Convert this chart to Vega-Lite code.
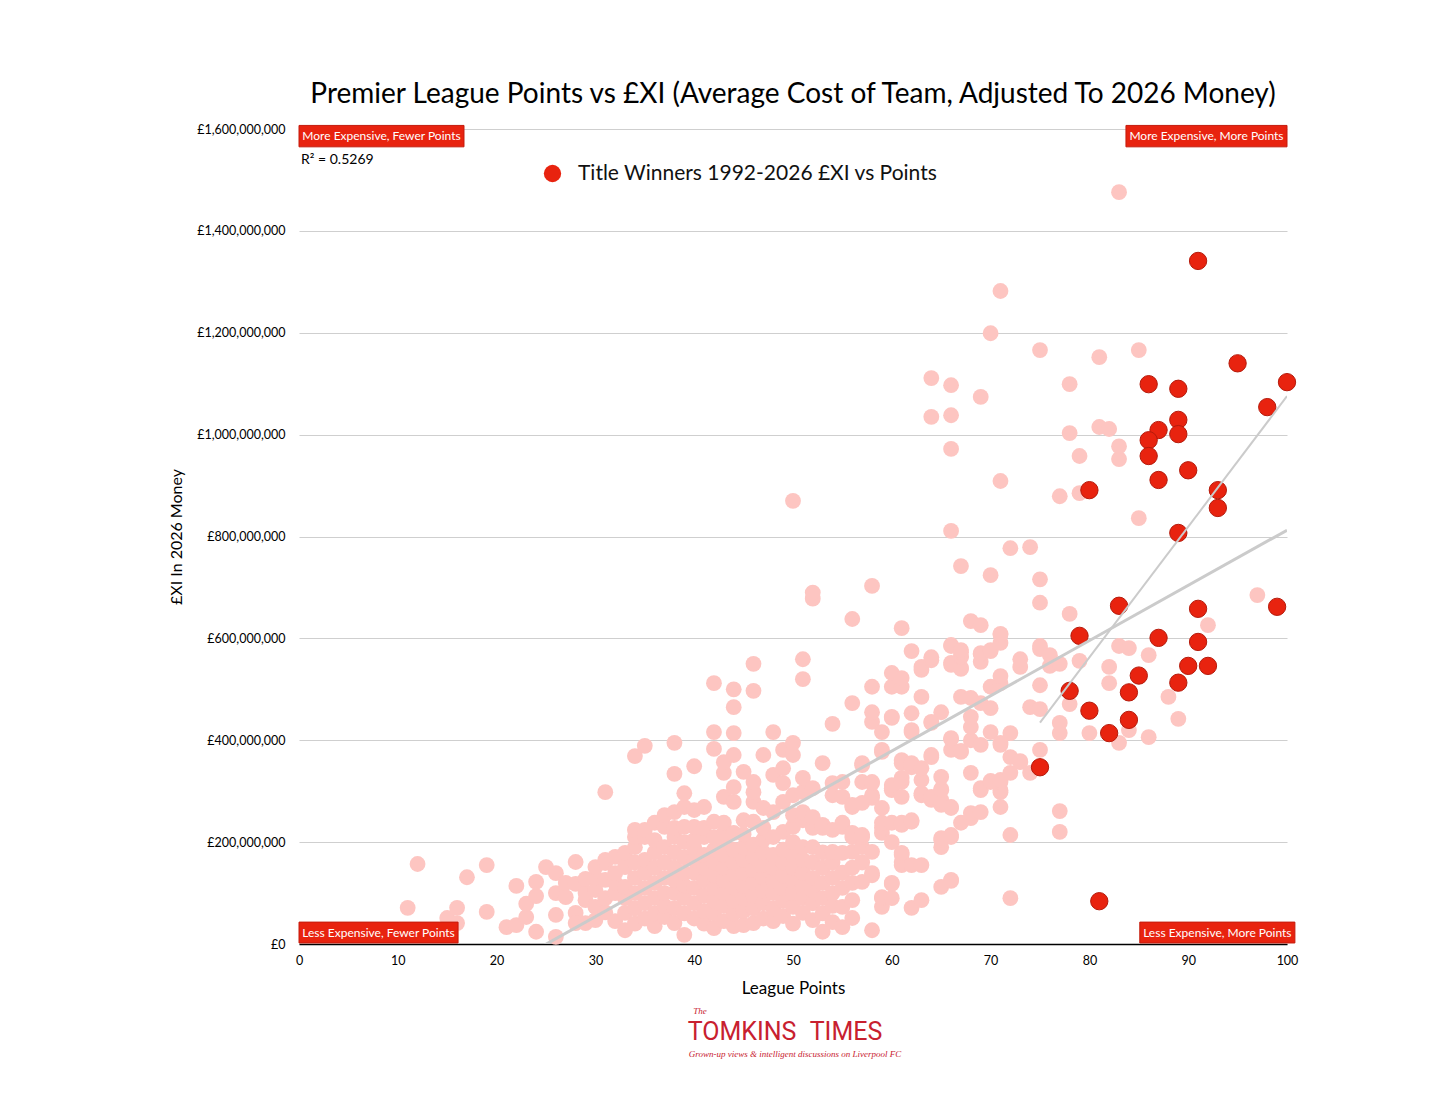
{
  "$schema": "https://vega.github.io/schema/vega-lite/v6.json",
  "description": "Premier League points vs average XI cost, title winners highlighted.",
  "autosize": "none",
  "width": 988,
  "height": 815,
  "padding": {"left": 299, "top": 129, "right": 169, "bottom": 173},
  "background": "white",
  "title": {
    "text": "Premier League Points vs £XI (Average Cost of Team, Adjusted To 2026 Money)",
    "fontSize": 28,
    "fontWeight": "normal",
    "color": "#000",
    "anchor": "middle",
    "frame": "group",
    "offset": 14
  },
  "config": {
    "font": "Lato",
    "view": {"stroke": null}
  },
  "datasets": {
    "notes": [
      {"label": "More Expensive, Fewer Points", "x0": 0, "x1": 16.7, "y0": 1565, "y1": 1607},
      {"label": "More Expensive, More Points", "x0": 83.7, "x1": 100, "y0": 1565, "y1": 1607},
      {"label": "Less Expensive, Fewer Points", "x0": 0, "x1": 16.1, "y0": 2, "y1": 43},
      {"label": "Less Expensive, More Points", "x0": 85.1, "x1": 100.8, "y0": 2, "y1": 43}
    ],
    "single": [{"id": 1}]
  },
  "data": {
    "values": [
      {"points":91,"cost_m":1341,"winner":1},{"points":95,"cost_m":1140,"winner":1},{"points":100,"cost_m":1103,"winner":1},
      {"points":86,"cost_m":1099,"winner":1},{"points":89,"cost_m":1090,"winner":1},{"points":98,"cost_m":1054,"winner":1},
      {"points":89,"cost_m":1029,"winner":1},{"points":87,"cost_m":1009,"winner":1},{"points":86,"cost_m":989,"winner":1},
      {"points":89,"cost_m":1001,"winner":1},{"points":86,"cost_m":958,"winner":1},{"points":90,"cost_m":930,"winner":1},
      {"points":87,"cost_m":911,"winner":1},{"points":80,"cost_m":891,"winner":1},{"points":93,"cost_m":891,"winner":1},
      {"points":93,"cost_m":856,"winner":1},{"points":89,"cost_m":807,"winner":1},{"points":83,"cost_m":664,"winner":1},
      {"points":99,"cost_m":662,"winner":1},{"points":91,"cost_m":658,"winner":1},{"points":79,"cost_m":605,"winner":1},
      {"points":87,"cost_m":601,"winner":1},{"points":91,"cost_m":593,"winner":1},{"points":90,"cost_m":546,"winner":1},
      {"points":92,"cost_m":546,"winner":1},{"points":85,"cost_m":527,"winner":1},{"points":78,"cost_m":497,"winner":1},
      {"points":84,"cost_m":494,"winner":1},{"points":89,"cost_m":513,"winner":1},{"points":80,"cost_m":458,"winner":1},
      {"points":84,"cost_m":440,"winner":1},{"points":82,"cost_m":414,"winner":1},{"points":75,"cost_m":347,"winner":1},
      {"points":81,"cost_m":84,"winner":1},

      {"points":11,"cost_m":71,"winner":0},{"points":12,"cost_m":157,"winner":0},{"points":15,"cost_m":51,"winner":0},
      {"points":16,"cost_m":71,"winner":0},{"points":16,"cost_m":41,"winner":0},{"points":17,"cost_m":131,"winner":0},
      {"points":19,"cost_m":155,"winner":0},{"points":19,"cost_m":63,"winner":0},{"points":21,"cost_m":33,"winner":0},
      {"points":22,"cost_m":114,"winner":0},{"points":22,"cost_m":37,"winner":0},{"points":23,"cost_m":53,"winner":0},
      {"points":23,"cost_m":79,"winner":0},{"points":24,"cost_m":94,"winner":0},{"points":24,"cost_m":122,"winner":0},
      {"points":24,"cost_m":24,"winner":0},{"points":25,"cost_m":151,"winner":0},{"points":26,"cost_m":139,"winner":0},
      {"points":26,"cost_m":14,"winner":0},{"points":26,"cost_m":100,"winner":0},{"points":26,"cost_m":57,"winner":0},
      {"points":27,"cost_m":92,"winner":0},{"points":27,"cost_m":120,"winner":0},{"points":28,"cost_m":161,"winner":0},
      {"points":28,"cost_m":118,"winner":0},{"points":28,"cost_m":61,"winner":0},{"points":28,"cost_m":41,"winner":0},

      {"points":29,"cost_m":41,"winner":0},{"points":29,"cost_m":86,"winner":0},{"points":29,"cost_m":100,"winner":0},{"points":29,"cost_m":128,"winner":0},
      {"points":30,"cost_m":47,"winner":0},{"points":30,"cost_m":73,"winner":0},{"points":30,"cost_m":106,"winner":0},{"points":30,"cost_m":130,"winner":0},{"points":30,"cost_m":151,"winner":0},
      {"points":31,"cost_m":62,"winner":0},{"points":31,"cost_m":90,"winner":0},{"points":31,"cost_m":126,"winner":0},{"points":31,"cost_m":159,"winner":0},{"points":31,"cost_m":165,"winner":0},{"points":31,"cost_m":298,"winner":0},
      {"points":32,"cost_m":45,"winner":0},{"points":32,"cost_m":100,"winner":0},{"points":32,"cost_m":120,"winner":0},{"points":32,"cost_m":139,"winner":0},{"points":32,"cost_m":171,"winner":0},
      {"points":33,"cost_m":27,"winner":0},{"points":33,"cost_m":61,"winner":0},{"points":33,"cost_m":90,"winner":0},{"points":33,"cost_m":112,"winner":0},{"points":33,"cost_m":151,"winner":0},{"points":33,"cost_m":179,"winner":0},
      {"points":34,"cost_m":40,"winner":0},{"points":34,"cost_m":70,"winner":0},{"points":34,"cost_m":100,"winner":0},{"points":34,"cost_m":130,"winner":0},{"points":34,"cost_m":160,"winner":0},{"points":34,"cost_m":190,"winner":0},{"points":34,"cost_m":210,"winner":0},{"points":34,"cost_m":224,"winner":0},{"points":34,"cost_m":369,"winner":0},
      {"points":35,"cost_m":50,"winner":0},{"points":35,"cost_m":80,"winner":0},{"points":35,"cost_m":110,"winner":0},{"points":35,"cost_m":140,"winner":0},{"points":35,"cost_m":165,"winner":0},{"points":35,"cost_m":210,"winner":0},{"points":35,"cost_m":224,"winner":0},{"points":35,"cost_m":389,"winner":0},
      {"points":36,"cost_m":35,"winner":0},{"points":36,"cost_m":60,"winner":0},{"points":36,"cost_m":90,"winner":0},{"points":36,"cost_m":120,"winner":0},{"points":36,"cost_m":150,"winner":0},{"points":36,"cost_m":180,"winner":0},{"points":36,"cost_m":204,"winner":0},{"points":36,"cost_m":238,"winner":0},
      {"points":37,"cost_m":53,"winner":0},{"points":37,"cost_m":75,"winner":0},{"points":37,"cost_m":100,"winner":0},{"points":37,"cost_m":130,"winner":0},{"points":37,"cost_m":160,"winner":0},{"points":37,"cost_m":190,"winner":0},{"points":37,"cost_m":230,"winner":0},{"points":37,"cost_m":253,"winner":0},
      {"points":38,"cost_m":41,"winner":0},{"points":38,"cost_m":70,"winner":0},{"points":38,"cost_m":100,"winner":0},{"points":38,"cost_m":125,"winner":0},{"points":38,"cost_m":150,"winner":0},{"points":38,"cost_m":180,"winner":0},{"points":38,"cost_m":210,"winner":0},{"points":38,"cost_m":228,"winner":0},{"points":38,"cost_m":259,"winner":0},{"points":38,"cost_m":334,"winner":0},{"points":38,"cost_m":395,"winner":0},
      {"points":39,"cost_m":18,"winner":0},{"points":39,"cost_m":60,"winner":0},{"points":39,"cost_m":90,"winner":0},{"points":39,"cost_m":115,"winner":0},{"points":39,"cost_m":140,"winner":0},{"points":39,"cost_m":170,"winner":0},{"points":39,"cost_m":200,"winner":0},{"points":39,"cost_m":230,"winner":0},{"points":39,"cost_m":269,"winner":0},{"points":39,"cost_m":296,"winner":0},
      {"points":40,"cost_m":50,"winner":0},{"points":40,"cost_m":80,"winner":0},{"points":40,"cost_m":110,"winner":0},{"points":40,"cost_m":140,"winner":0},{"points":40,"cost_m":165,"winner":0},{"points":40,"cost_m":190,"winner":0},{"points":40,"cost_m":204,"winner":0},{"points":40,"cost_m":230,"winner":0},{"points":40,"cost_m":263,"winner":0},{"points":40,"cost_m":349,"winner":0},
      {"points":41,"cost_m":40,"winner":0},{"points":41,"cost_m":65,"winner":0},{"points":41,"cost_m":95,"winner":0},{"points":41,"cost_m":125,"winner":0},{"points":41,"cost_m":150,"winner":0},{"points":41,"cost_m":175,"winner":0},{"points":41,"cost_m":210,"winner":0},{"points":41,"cost_m":228,"winner":0},{"points":41,"cost_m":269,"winner":0},
      {"points":42,"cost_m":31,"winner":0},{"points":42,"cost_m":60,"winner":0},{"points":42,"cost_m":85,"winner":0},{"points":42,"cost_m":110,"winner":0},{"points":42,"cost_m":135,"winner":0},{"points":42,"cost_m":160,"winner":0},{"points":42,"cost_m":185,"winner":0},{"points":42,"cost_m":210,"winner":0},{"points":42,"cost_m":240,"winner":0},{"points":42,"cost_m":383,"winner":0},{"points":42,"cost_m":416,"winner":0},{"points":42,"cost_m":512,"winner":0},
      {"points":43,"cost_m":45,"winner":0},{"points":43,"cost_m":75,"winner":0},{"points":43,"cost_m":100,"winner":0},{"points":43,"cost_m":125,"winner":0},{"points":43,"cost_m":150,"winner":0},{"points":43,"cost_m":175,"winner":0},{"points":43,"cost_m":200,"winner":0},{"points":43,"cost_m":218,"winner":0},{"points":43,"cost_m":238,"winner":0},{"points":43,"cost_m":289,"winner":0},{"points":43,"cost_m":336,"winner":0},{"points":43,"cost_m":357,"winner":0},
      {"points":44,"cost_m":35,"winner":0},{"points":44,"cost_m":60,"winner":0},{"points":44,"cost_m":85,"winner":0},{"points":44,"cost_m":110,"winner":0},{"points":44,"cost_m":135,"winner":0},{"points":44,"cost_m":160,"winner":0},{"points":44,"cost_m":185,"winner":0},{"points":44,"cost_m":218,"winner":0},{"points":44,"cost_m":279,"winner":0},{"points":44,"cost_m":308,"winner":0},{"points":44,"cost_m":371,"winner":0},{"points":44,"cost_m":414,"winner":0},{"points":44,"cost_m":465,"winner":0},{"points":44,"cost_m":500,"winner":0},
      {"points":45,"cost_m":37,"winner":0},{"points":45,"cost_m":65,"winner":0},{"points":45,"cost_m":90,"winner":0},{"points":45,"cost_m":115,"winner":0},{"points":45,"cost_m":140,"winner":0},{"points":45,"cost_m":165,"winner":0},{"points":45,"cost_m":190,"winner":0},{"points":45,"cost_m":215,"winner":0},{"points":45,"cost_m":243,"winner":0},{"points":45,"cost_m":338,"winner":0},
      {"points":46,"cost_m":41,"winner":0},{"points":46,"cost_m":70,"winner":0},{"points":46,"cost_m":95,"winner":0},{"points":46,"cost_m":120,"winner":0},{"points":46,"cost_m":145,"winner":0},{"points":46,"cost_m":170,"winner":0},{"points":46,"cost_m":195,"winner":0},{"points":46,"cost_m":240,"winner":0},{"points":46,"cost_m":279,"winner":0},{"points":46,"cost_m":298,"winner":0},{"points":46,"cost_m":318,"winner":0},{"points":46,"cost_m":497,"winner":0},{"points":46,"cost_m":550,"winner":0},
      {"points":47,"cost_m":50,"winner":0},{"points":47,"cost_m":80,"winner":0},{"points":47,"cost_m":105,"winner":0},{"points":47,"cost_m":130,"winner":0},{"points":47,"cost_m":155,"winner":0},{"points":47,"cost_m":180,"winner":0},{"points":47,"cost_m":205,"winner":0},{"points":47,"cost_m":228,"winner":0},{"points":47,"cost_m":267,"winner":0},{"points":47,"cost_m":371,"winner":0},
      {"points":48,"cost_m":45,"winner":0},{"points":48,"cost_m":70,"winner":0},{"points":48,"cost_m":100,"winner":0},{"points":48,"cost_m":125,"winner":0},{"points":48,"cost_m":150,"winner":0},{"points":48,"cost_m":175,"winner":0},{"points":48,"cost_m":210,"winner":0},{"points":48,"cost_m":259,"winner":0},{"points":48,"cost_m":332,"winner":0},{"points":48,"cost_m":416,"winner":0},
      {"points":49,"cost_m":55,"winner":0},{"points":49,"cost_m":85,"winner":0},{"points":49,"cost_m":110,"winner":0},{"points":49,"cost_m":135,"winner":0},{"points":49,"cost_m":160,"winner":0},{"points":49,"cost_m":185,"winner":0},{"points":49,"cost_m":220,"winner":0},{"points":49,"cost_m":279,"winner":0},{"points":49,"cost_m":316,"winner":0},{"points":49,"cost_m":345,"winner":0},{"points":49,"cost_m":381,"winner":0},
      {"points":50,"cost_m":40,"winner":0},{"points":50,"cost_m":73,"winner":0},{"points":50,"cost_m":100,"winner":0},{"points":50,"cost_m":125,"winner":0},{"points":50,"cost_m":150,"winner":0},{"points":50,"cost_m":175,"winner":0},{"points":50,"cost_m":200,"winner":0},{"points":50,"cost_m":230,"winner":0},{"points":50,"cost_m":253,"winner":0},{"points":50,"cost_m":292,"winner":0},{"points":50,"cost_m":371,"winner":0},{"points":50,"cost_m":395,"winner":0},{"points":50,"cost_m":870,"winner":0},
      {"points":51,"cost_m":61,"winner":0},{"points":51,"cost_m":90,"winner":0},{"points":51,"cost_m":115,"winner":0},{"points":51,"cost_m":140,"winner":0},{"points":51,"cost_m":165,"winner":0},{"points":51,"cost_m":190,"winner":0},{"points":51,"cost_m":243,"winner":0},{"points":51,"cost_m":259,"winner":0},{"points":51,"cost_m":298,"winner":0},{"points":51,"cost_m":326,"winner":0},{"points":51,"cost_m":520,"winner":0},{"points":51,"cost_m":559,"winner":0},
      {"points":52,"cost_m":47,"winner":0},{"points":52,"cost_m":80,"winner":0},{"points":52,"cost_m":105,"winner":0},{"points":52,"cost_m":130,"winner":0},{"points":52,"cost_m":160,"winner":0},{"points":52,"cost_m":190,"winner":0},{"points":52,"cost_m":228,"winner":0},{"points":52,"cost_m":249,"winner":0},{"points":52,"cost_m":306,"winner":0},{"points":52,"cost_m":678,"winner":0},{"points":52,"cost_m":690,"winner":0},
      {"points":53,"cost_m":24,"winner":0},{"points":53,"cost_m":60,"winner":0},{"points":53,"cost_m":90,"winner":0},{"points":53,"cost_m":120,"winner":0},{"points":53,"cost_m":150,"winner":0},{"points":53,"cost_m":180,"winner":0},{"points":53,"cost_m":228,"winner":0},{"points":53,"cost_m":234,"winner":0},{"points":53,"cost_m":355,"winner":0},
      {"points":54,"cost_m":43,"winner":0},{"points":54,"cost_m":75,"winner":0},{"points":54,"cost_m":100,"winner":0},{"points":54,"cost_m":130,"winner":0},{"points":54,"cost_m":160,"winner":0},{"points":54,"cost_m":181,"winner":0},{"points":54,"cost_m":224,"winner":0},{"points":54,"cost_m":292,"winner":0},{"points":54,"cost_m":316,"winner":0},{"points":54,"cost_m":432,"winner":0},
      {"points":55,"cost_m":33,"winner":0},{"points":55,"cost_m":73,"winner":0},{"points":55,"cost_m":110,"winner":0},{"points":55,"cost_m":140,"winner":0},{"points":55,"cost_m":179,"winner":0},{"points":55,"cost_m":230,"winner":0},{"points":55,"cost_m":238,"winner":0},{"points":55,"cost_m":289,"winner":0},{"points":55,"cost_m":318,"winner":0},
      {"points":56,"cost_m":51,"winner":0},{"points":56,"cost_m":86,"winner":0},{"points":56,"cost_m":120,"winner":0},{"points":56,"cost_m":150,"winner":0},{"points":56,"cost_m":181,"winner":0},{"points":56,"cost_m":210,"winner":0},{"points":56,"cost_m":218,"winner":0},{"points":56,"cost_m":269,"winner":0},{"points":56,"cost_m":273,"winner":0},{"points":56,"cost_m":473,"winner":0},{"points":56,"cost_m":638,"winner":0},
      {"points":57,"cost_m":122,"winner":0},{"points":57,"cost_m":160,"winner":0},{"points":57,"cost_m":190,"winner":0},{"points":57,"cost_m":210,"winner":0},{"points":57,"cost_m":214,"winner":0},{"points":57,"cost_m":277,"winner":0},{"points":57,"cost_m":318,"winner":0},{"points":57,"cost_m":351,"winner":0},{"points":57,"cost_m":355,"winner":0},
      {"points":58,"cost_m":27,"winner":0},{"points":58,"cost_m":135,"winner":0},{"points":58,"cost_m":139,"winner":0},{"points":58,"cost_m":181,"winner":0},{"points":58,"cost_m":287,"winner":0},{"points":58,"cost_m":292,"winner":0},{"points":58,"cost_m":316,"winner":0},{"points":58,"cost_m":318,"winner":0},{"points":58,"cost_m":436,"winner":0},{"points":58,"cost_m":455,"winner":0},{"points":58,"cost_m":505,"winner":0},{"points":58,"cost_m":703,"winner":0},
      {"points":59,"cost_m":73,"winner":0},{"points":59,"cost_m":90,"winner":0},{"points":59,"cost_m":92,"winner":0},{"points":59,"cost_m":218,"winner":0},{"points":59,"cost_m":228,"winner":0},{"points":59,"cost_m":238,"winner":0},{"points":59,"cost_m":267,"winner":0},{"points":59,"cost_m":377,"winner":0},{"points":59,"cost_m":381,"winner":0},{"points":59,"cost_m":416,"winner":0},
      {"points":60,"cost_m":90,"winner":0},{"points":60,"cost_m":118,"winner":0},{"points":60,"cost_m":120,"winner":0},{"points":60,"cost_m":200,"winner":0},{"points":60,"cost_m":238,"winner":0},{"points":60,"cost_m":302,"winner":0},{"points":60,"cost_m":306,"winner":0},{"points":60,"cost_m":312,"winner":0},{"points":60,"cost_m":444,"winner":0},{"points":60,"cost_m":446,"winner":0},{"points":60,"cost_m":505,"winner":0},{"points":60,"cost_m":532,"winner":0},
      {"points":61,"cost_m":155,"winner":0},{"points":61,"cost_m":161,"winner":0},{"points":61,"cost_m":175,"winner":0},{"points":61,"cost_m":179,"winner":0},{"points":61,"cost_m":234,"winner":0},{"points":61,"cost_m":238,"winner":0},{"points":61,"cost_m":289,"winner":0},{"points":61,"cost_m":318,"winner":0},{"points":61,"cost_m":326,"winner":0},{"points":61,"cost_m":355,"winner":0},{"points":61,"cost_m":361,"winner":0},{"points":61,"cost_m":505,"winner":0},{"points":61,"cost_m":522,"winner":0},{"points":61,"cost_m":620,"winner":0},
      {"points":62,"cost_m":71,"winner":0},{"points":62,"cost_m":155,"winner":0},{"points":62,"cost_m":240,"winner":0},{"points":62,"cost_m":243,"winner":0},{"points":62,"cost_m":347,"winner":0},{"points":62,"cost_m":355,"winner":0},{"points":62,"cost_m":416,"winner":0},{"points":62,"cost_m":420,"winner":0},{"points":62,"cost_m":453,"winner":0},{"points":62,"cost_m":575,"winner":0},
      {"points":63,"cost_m":86,"winner":0},{"points":63,"cost_m":155,"winner":0},{"points":63,"cost_m":292,"winner":0},{"points":63,"cost_m":296,"winner":0},{"points":63,"cost_m":322,"winner":0},{"points":63,"cost_m":345,"winner":0},{"points":63,"cost_m":485,"winner":0},{"points":63,"cost_m":538,"winner":0},{"points":63,"cost_m":544,"winner":0},
      {"points":64,"cost_m":283,"winner":0},{"points":64,"cost_m":289,"winner":0},{"points":64,"cost_m":367,"winner":0},{"points":64,"cost_m":371,"winner":0},{"points":64,"cost_m":434,"winner":0},{"points":64,"cost_m":436,"winner":0},{"points":64,"cost_m":557,"winner":0},{"points":64,"cost_m":563,"winner":0},{"points":64,"cost_m":1035,"winner":0},{"points":64,"cost_m":1111,"winner":0},
      {"points":65,"cost_m":112,"winner":0},{"points":65,"cost_m":190,"winner":0},{"points":65,"cost_m":204,"winner":0},{"points":65,"cost_m":208,"winner":0},{"points":65,"cost_m":273,"winner":0},{"points":65,"cost_m":283,"winner":0},{"points":65,"cost_m":302,"winner":0},{"points":65,"cost_m":304,"winner":0},{"points":65,"cost_m":328,"winner":0},{"points":65,"cost_m":455,"winner":0},
      {"points":66,"cost_m":124,"winner":0},{"points":66,"cost_m":126,"winner":0},{"points":66,"cost_m":210,"winner":0},{"points":66,"cost_m":214,"winner":0},{"points":66,"cost_m":267,"winner":0},{"points":66,"cost_m":269,"winner":0},{"points":66,"cost_m":381,"winner":0},{"points":66,"cost_m":402,"winner":0},{"points":66,"cost_m":404,"winner":0},{"points":66,"cost_m":548,"winner":0},{"points":66,"cost_m":552,"winner":0},{"points":66,"cost_m":585,"winner":0},{"points":66,"cost_m":587,"winner":0},{"points":66,"cost_m":811,"winner":0},{"points":66,"cost_m":972,"winner":0},{"points":66,"cost_m":1038,"winner":0},{"points":66,"cost_m":1097,"winner":0},
      {"points":67,"cost_m":238,"winner":0},{"points":67,"cost_m":377,"winner":0},{"points":67,"cost_m":379,"winner":0},{"points":67,"cost_m":485,"winner":0},{"points":67,"cost_m":540,"winner":0},{"points":67,"cost_m":542,"winner":0},{"points":67,"cost_m":563,"winner":0},{"points":67,"cost_m":565,"winner":0},{"points":67,"cost_m":573,"winner":0},{"points":67,"cost_m":577,"winner":0},{"points":67,"cost_m":742,"winner":0},
      {"points":68,"cost_m":247,"winner":0},{"points":68,"cost_m":257,"winner":0},{"points":68,"cost_m":336,"winner":0},{"points":68,"cost_m":400,"winner":0},{"points":68,"cost_m":426,"winner":0},{"points":68,"cost_m":446,"winner":0},{"points":68,"cost_m":483,"winner":0},{"points":68,"cost_m":634,"winner":0},
      {"points":69,"cost_m":259,"winner":0},{"points":69,"cost_m":302,"winner":0},{"points":69,"cost_m":306,"winner":0},{"points":69,"cost_m":391,"winner":0},{"points":69,"cost_m":473,"winner":0},{"points":69,"cost_m":554,"winner":0},{"points":69,"cost_m":569,"winner":0},{"points":69,"cost_m":571,"winner":0},{"points":69,"cost_m":626,"winner":0},{"points":69,"cost_m":1074,"winner":0},
      {"points":70,"cost_m":318,"winner":0},{"points":70,"cost_m":320,"winner":0},{"points":70,"cost_m":416,"winner":0},{"points":70,"cost_m":463,"winner":0},{"points":70,"cost_m":505,"winner":0},{"points":70,"cost_m":575,"winner":0},{"points":70,"cost_m":577,"winner":0},{"points":70,"cost_m":724,"winner":0},{"points":70,"cost_m":1199,"winner":0},
      {"points":71,"cost_m":269,"winner":0},{"points":71,"cost_m":298,"winner":0},{"points":71,"cost_m":302,"winner":0},{"points":71,"cost_m":318,"winner":0},{"points":71,"cost_m":322,"winner":0},{"points":71,"cost_m":391,"winner":0},{"points":71,"cost_m":395,"winner":0},{"points":71,"cost_m":512,"winner":0},{"points":71,"cost_m":526,"winner":0},{"points":71,"cost_m":591,"winner":0},{"points":71,"cost_m":607,"winner":0},{"points":71,"cost_m":609,"winner":0},{"points":71,"cost_m":909,"winner":0},{"points":71,"cost_m":1282,"winner":0},
      {"points":72,"cost_m":90,"winner":0},{"points":72,"cost_m":214,"winner":0},{"points":72,"cost_m":336,"winner":0},{"points":72,"cost_m":367,"winner":0},{"points":72,"cost_m":414,"winner":0},{"points":72,"cost_m":777,"winner":0},
      {"points":73,"cost_m":357,"winner":0},{"points":73,"cost_m":359,"winner":0},{"points":73,"cost_m":544,"winner":0},{"points":73,"cost_m":559,"winner":0},
      {"points":74,"cost_m":336,"winner":0},{"points":74,"cost_m":465,"winner":0},{"points":74,"cost_m":779,"winner":0},
      {"points":75,"cost_m":381,"winner":0},{"points":75,"cost_m":461,"winner":0},{"points":75,"cost_m":508,"winner":0},{"points":75,"cost_m":579,"winner":0},{"points":75,"cost_m":585,"winner":0},{"points":75,"cost_m":670,"winner":0},{"points":75,"cost_m":716,"winner":0},{"points":75,"cost_m":1166,"winner":0},
      {"points":76,"cost_m":546,"winner":0},{"points":76,"cost_m":567,"winner":0},
      {"points":77,"cost_m":220,"winner":0},{"points":77,"cost_m":261,"winner":0},{"points":77,"cost_m":414,"winner":0},{"points":77,"cost_m":434,"winner":0},{"points":77,"cost_m":550,"winner":0},{"points":77,"cost_m":879,"winner":0},
      {"points":78,"cost_m":471,"winner":0},{"points":78,"cost_m":648,"winner":0},{"points":78,"cost_m":1003,"winner":0},{"points":78,"cost_m":1099,"winner":0},
      {"points":79,"cost_m":556,"winner":0},{"points":79,"cost_m":885,"winner":0},{"points":79,"cost_m":958,"winner":0},
      {"points":80,"cost_m":414,"winner":0},
      {"points":81,"cost_m":1015,"winner":0},{"points":81,"cost_m":1152,"winner":0},
      {"points":82,"cost_m":512,"winner":0},{"points":82,"cost_m":544,"winner":0},{"points":82,"cost_m":1011,"winner":0},
      {"points":83,"cost_m":395,"winner":0},{"points":83,"cost_m":585,"winner":0},{"points":83,"cost_m":952,"winner":0},{"points":83,"cost_m":977,"winner":0},{"points":83,"cost_m":1476,"winner":0},
      {"points":84,"cost_m":420,"winner":0},{"points":84,"cost_m":581,"winner":0},
      {"points":85,"cost_m":836,"winner":0},{"points":85,"cost_m":1166,"winner":0},
      {"points":86,"cost_m":406,"winner":0},{"points":86,"cost_m":567,"winner":0},
      {"points":88,"cost_m":485,"winner":0},{"points":89,"cost_m":442,"winner":0},
      {"points":92,"cost_m":626,"winner":0},{"points":97,"cost_m":685,"winner":0}
    ]
  },
  "layer": [
    {
      "transform": [{"filter": "datum.winner == 0"}],
      "mark": {"type": "circle", "size": 250, "color": "#fdc5c1", "opacity": 1},
      "encoding": {
        "x": {
          "field": "points",
          "type": "quantitative",
          "title": "League Points",
          "scale": {"domain": [0, 100], "nice": false, "zero": true},
          "axis": {
            "values": [0, 10, 20, 30, 40, 50, 60, 70, 80, 90, 100],
            "grid": false,
            "ticks": false,
            "labelFlush": false,
            "domainColor": "#000",
            "domainWidth": 1.5,
            "labelFontSize": 12.5,
            "labelColor": "#000",
            "labelPadding": 10,
            "titleFontSize": 17,
            "titleFontWeight": "normal",
            "titleColor": "#000",
            "titlePadding": 14
          }
        },
        "y": {
          "field": "cost_m",
          "type": "quantitative",
          "title": "£XI In 2026 Money",
          "scale": {"domain": [0, 1600], "nice": false},
          "axis": {
            "values": [0, 200, 400, 600, 800, 1000, 1200, 1400, 1600],
            "labelExpr": "'£' + format(datum.value * 1000000, ',')",
            "domain": false,
            "ticks": false,
            "labelFlush": false,
            "gridColor": "#cfcfcf",
            "gridWidth": 1,
            "labelFontSize": 12.5,
            "labelColor": "#000",
            "labelPadding": 14,
            "titleFontSize": 16,
            "titleFontWeight": "normal",
            "titleColor": "#000",
            "titlePadding": 12
          }
        }
      }
    },
    {
      "transform": [{"filter": "datum.winner == 1"}],
      "mark": {"type": "circle", "size": 300, "opacity": 1, "stroke": "#b51a0b", "strokeWidth": 1},
      "encoding": {
        "x": {"field": "points", "type": "quantitative"},
        "y": {"field": "cost_m", "type": "quantitative"},
        "color": {
          "datum": "Title Winners 1992-2026 £XI vs Points",
          "type": "nominal",
          "scale": {"range": ["#e8230f"]},
          "legend": {
            "title": null,
            "orient": "none",
            "legendX": 243,
            "legendY": 34,
            "labelFontSize": 21,
            "labelColor": "#111",
            "labelLimit": 0,
            "labelOffset": 15,
            "symbolType": "circle",
            "symbolSize": 300,
            "symbolStrokeWidth": 0
          }
        }
      }
    },
    {
      "transform": [{"regression": "cost_m", "on": "points", "extent": [11, 100]}],
      "mark": {"type": "line", "color": "#cbcbcb", "strokeWidth": 3, "clip": true},
      "encoding": {
        "x": {"field": "points", "type": "quantitative"},
        "y": {"field": "cost_m", "type": "quantitative"}
      }
    },
    {
      "transform": [
        {"filter": "datum.winner == 1"},
        {"regression": "cost_m", "on": "points"}
      ],
      "mark": {"type": "line", "color": "#cbcbcb", "strokeWidth": 2, "clip": true},
      "encoding": {
        "x": {"field": "points", "type": "quantitative"},
        "y": {"field": "cost_m", "type": "quantitative"}
      }
    },
    {
      "data": {"name": "notes"},
      "mark": {"type": "rect", "color": "#e8230f", "stroke": "#c41b0c", "strokeWidth": 1},
      "encoding": {
        "x": {"field": "x0", "type": "quantitative"},
        "x2": {"field": "x1"},
        "y": {"field": "y0", "type": "quantitative"},
        "y2": {"field": "y1"}
      }
    },
    {
      "data": {"name": "notes"},
      "transform": [
        {"calculate": "(datum.x0 + datum.x1) / 2", "as": "xm"},
        {"calculate": "(datum.y0 + datum.y1) / 2", "as": "ym"}
      ],
      "mark": {"type": "text", "color": "white", "fontSize": 12, "align": "center", "baseline": "middle"},
      "encoding": {
        "x": {"field": "xm", "type": "quantitative"},
        "y": {"field": "ym", "type": "quantitative"},
        "text": {"field": "label"}
      }
    },
    {
      "data": {"name": "single"},
      "mark": {"type": "text", "text": "R² = 0.5269", "fontSize": 14, "color": "#000", "align": "left", "baseline": "middle", "dx": 2},
      "encoding": {
        "x": {"datum": 0},
        "y": {"datum": 1539}
      }
    },
    {
      "data": {"name": "single"},
      "mark": {"type": "text", "text": "The", "fontSize": 9, "font": "Liberation Serif", "fontStyle": "italic", "color": "#c8202f", "align": "center", "baseline": "middle", "dx": -93, "dy": 67},
      "encoding": {"x": {"datum": 50}, "y": {"datum": 0}}
    },
    {
      "data": {"name": "single"},
      "mark": {"type": "text", "text": "TOMKINS", "fontSize": 25, "font": "Roboto", "color": "#c8202f", "align": "center", "baseline": "middle", "dx": -51, "dy": 88},
      "encoding": {"x": {"datum": 50}, "y": {"datum": 0}}
    },
    {
      "data": {"name": "single"},
      "mark": {"type": "text", "text": "TIMES", "fontSize": 25, "font": "Roboto", "color": "#c8202f", "align": "center", "baseline": "middle", "dx": 53, "dy": 88},
      "encoding": {"x": {"datum": 50}, "y": {"datum": 0}}
    },
    {
      "data": {"name": "single"},
      "mark": {"type": "text", "text": "Grown-up views & intelligent discussions on Liverpool FC", "fontSize": 9, "font": "Liberation Serif", "fontStyle": "italic", "color": "#c8202f", "align": "center", "baseline": "middle", "dx": 2, "dy": 110},
      "encoding": {"x": {"datum": 50}, "y": {"datum": 0}}
    }
  ]
}
